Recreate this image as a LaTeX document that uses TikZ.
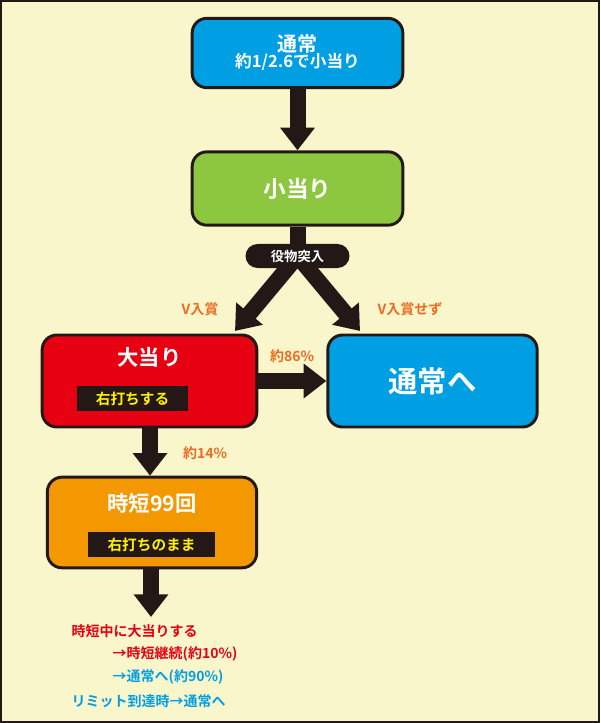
\documentclass[tikz,border=0pt]{standalone}
\usepackage{fontspec}
\setmainfont{Noto Sans CJK JP}[BoldFont={* Bold}]
\usetikzlibrary{arrows.meta}
\definecolor{bg}{HTML}{FAF6CC}
\definecolor{bblue}{HTML}{009FE3}
\definecolor{bgreen}{HTML}{8DC63F}
\definecolor{bred}{HTML}{E60012}
\definecolor{borange}{HTML}{F39800}
\definecolor{lor}{HTML}{EE6B21}
\definecolor{dk}{HTML}{231815}
\definecolor{yl}{HTML}{FFF100}
\begin{document}
\begin{tikzpicture}[x=0.75pt,y=-0.75pt,font=\bfseries,
 box/.style={draw=dk,line width=2.2pt,rounded corners=11pt,inner sep=0pt,text=white},
 tag/.style={fill=dk,text=yl,font=\bfseries\fontsize{11pt}{12pt}\selectfont,inner sep=0pt,minimum height=19pt},
 arr/.style={draw=dk,line width=12pt,-{Triangle[width=25pt,length=17pt]}},
 lab/.style={text=lor,font=\bfseries\fontsize{10.5pt}{12pt}\selectfont},
 note/.style={anchor=west,font=\bfseries\fontsize{10.5pt}{12pt}\selectfont}]
\draw[fill=bg,draw=dk,line width=1.5pt] (1,1) rectangle (599,722);
\useasboundingbox (0,0) rectangle (600,723);
\node[box,fill=bblue,minimum width=158pt,minimum height=52pt,align=center] (top) at (297.5,53) {\fontsize{15pt}{19pt}\selectfont 通常\\\fontsize{12.5pt}{16pt}\selectfont 約1/2.6で小当り};
\node[box,fill=bgreen,minimum width=158pt,minimum height=55pt,font=\bfseries\fontsize{17pt}{20pt}\selectfont] (sm) at (297.5,188.5) {小当り};
\node[box,fill=bred,minimum width=161pt,minimum height=69pt] (da) at (149.5,381) {};
\node[text=white,font=\bfseries\fontsize{16pt}{18pt}\selectfont] (dat) at (149.5,357) {大当り};
\node[tag,minimum width=83pt] (dtag) at (132.5,398.5) {右打ちする};
\node[box,fill=bblue,minimum width=157pt,minimum height=69pt,font=\bfseries\fontsize{22pt}{26pt}\selectfont] (nr) at (432.5,381) {通常へ};
\node[box,fill=borange,minimum width=157pt,minimum height=68pt] (jt) at (152,522.5) {};
\node[text=white,font=\bfseries\fontsize{16pt}{18pt}\selectfont] (jtt) at (152,503) {時短99回};
\node[tag,minimum width=95pt] (jtag) at (151.5,544.5) {右打ちのまま};
\coordinate (ta) at (235,331);
\coordinate (tb) at (360,331);
\coordinate (pc) at (297.5,256);
\coordinate (bt) at (151,617);
\draw[arr] (top) -- (sm);
\draw[dk,line width=12pt] (sm.south) -- (pc);
\draw[arr] (pc) -- (ta);
\draw[arr] (pc) -- (tb);
\node[fill=dk,text=white,rounded corners=9pt,minimum width=78pt,minimum height=18pt,inner sep=0pt,font=\bfseries\fontsize{10pt}{12pt}\selectfont] (pill) at (pc) {役物突入};
\draw[arr] (da.east |- 0,381) -- (nr.west |- 0,381);
\draw[arr] (da.south -| 150,0) -- (jt.north -| 150,0);
\draw[arr] (jt.south -| 151,0) -- (bt);
\node[lab] (l1) at (200,309) {V入賞};
\node[lab] (l2) at (410,309) {V入賞せず};
\node[lab] (l3) at (292,356) {約86\%};
\node[lab] (l4) at (205,453) {約14\%};
\node[note,text=bred] (n1) at (67,631) {時短中に大当りする};
\node[note,text=bred] (n2) at (108,654) {→時短継続(約10\%)};
\node[note,text=bblue] (n3) at (108,677) {→通常へ(約90\%)};
\node[note,text=bblue] (n4) at (67,701) {リミット到達時→通常へ};
\end{tikzpicture}
\end{document}
